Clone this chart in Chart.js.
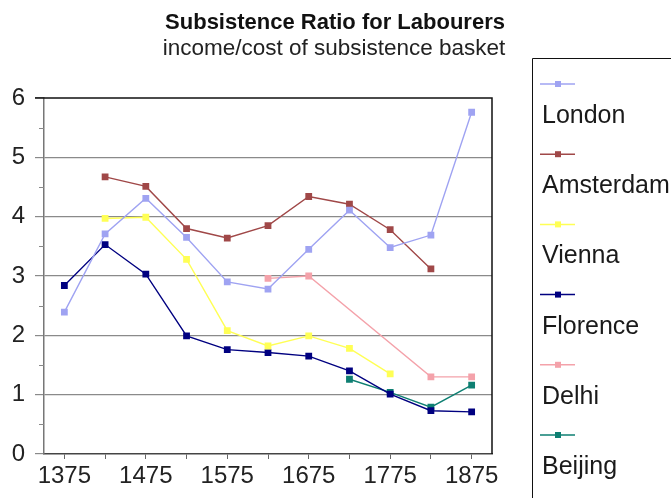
<!DOCTYPE html>
<html>
<head>
<meta charset="utf-8">
<script src="https://cdn.jsdelivr.net/npm/chart.js@4.4.1/dist/chart.umd.min.js"></script>
<style>
html,body{margin:0;padding:0;background:#fff;}
canvas{display:block;}
</style>
</head>
<body>
<canvas id="c" width="671" height="498"></canvas>
<script>
const years = ['1375','1425','1475','1525','1575','1625','1675','1725','1775','1825','1875'];
const london    = [2.39, 3.71, 4.31, 3.65, 2.90, 2.78, 3.45, 4.11, 3.48, 3.69, 5.76];
const amsterdam = [null, 4.67, 4.51, 3.80, 3.64, 3.85, 4.34, 4.21, 3.78, 3.12, null];
const vienna    = [null, 3.97, 3.99, 3.28, 2.08, 1.82, 1.99, 1.78, 1.35, null, null];
const florence  = [2.84, 3.53, 3.03, 1.99, 1.76, 1.71, 1.65, 1.40, 1.01, 0.73, 0.71];
const delhi     = [null, null, null, null, null, 2.96, 3.00, null, null, 1.30, 1.30];
const beijing   = [null, null, null, null, null, null, null, 1.26, 1.04, 0.79, 1.16];
const seriesNames = ['London','Amsterdam','Vienna','Florence','Delhi','Beijing'];
const seriesColors = ['#9fa3f2','#a04848','#ffff55','#000080','#f4a2aa','#0e7f72'];
const titleText = 'Subsistence Ratio for Labourers';
const subtitleText = 'income/cost of subsistence basket';

const FONT = '"Liberation Sans", Arial, sans-serif';
const seriesData = [london, amsterdam, vienna, florence, delhi, beijing];

const datasets = seriesNames.map((n, i) => ({
  label: n,
  data: seriesData[i],
  borderColor: seriesColors[i],
  backgroundColor: seriesColors[i],
  pointBackgroundColor: seriesColors[i],
  pointBorderColor: seriesColors[i],
  pointStyle: 'rect',
  pointRadius: 4.8,
  pointBorderWidth: 0,
  borderWidth: 1.4,
  tension: 0,
  spanGaps: true
}));

const decor = {
  id: 'decor',
  beforeDatasetsDraw(chart) {
    const ctx = chart.ctx;
    const ys = chart.scales.y;
    const left = chart.chartArea.left;
    ctx.save();
    ctx.strokeStyle = '#888';
    ctx.lineWidth = 1;
    for (let v = 0.5; v < 6; v += 1) {
      const y = Math.round(ys.getPixelForValue(v)) + 0.5;
      ctx.beginPath();
      ctx.moveTo(left - 5, y);
      ctx.lineTo(left, y);
      ctx.stroke();
    }
    ctx.restore();
  },
  afterDraw(chart) {
    const ctx = chart.ctx;
    const a = chart.chartArea;
    ctx.save();
    ctx.strokeStyle = '#111';
    ctx.lineWidth = 1.5;
    ctx.beginPath();
    ctx.moveTo(a.left - 9, a.top);
    ctx.lineTo(a.right, a.top);
    ctx.lineTo(a.right, a.bottom);
    ctx.stroke();
    ctx.fillStyle = '#111';
    ctx.textAlign = 'center';
    ctx.textBaseline = 'alphabetic';
    ctx.font = 'bold 22px ' + FONT;
    ctx.fillText(titleText, 335, 29);
    ctx.font = '22.5px ' + FONT;
    ctx.fillStyle = '#222';
    ctx.fillText(subtitleText, 334, 55);
    ctx.strokeStyle = '#111';
    ctx.lineWidth = 1;
    ctx.beginPath();
    ctx.moveTo(532.5, 510);
    ctx.lineTo(532.5, 58.5);
    ctx.lineTo(680, 58.5);
    ctx.stroke();
    ctx.textAlign = 'left';
    ctx.font = '25px ' + FONT;
    seriesNames.forEach((n, i) => {
      const y = 84 + i * 70.2;
      ctx.strokeStyle = seriesColors[i];
      ctx.lineWidth = 1.5;
      ctx.beginPath();
      ctx.moveTo(540, y);
      ctx.lineTo(575, y);
      ctx.stroke();
      ctx.fillStyle = seriesColors[i];
      ctx.fillRect(555, y - 3, 6, 6);
      ctx.fillStyle = '#1a1a1a';
      ctx.fillText(n, 542, y + 39);
    });
    ctx.restore();
  }
};

new Chart(document.getElementById('c'), {
  type: 'line',
  data: { labels: years, datasets },
  options: {
    responsive: false,
    animation: false,
    layout: { padding: { top: 98, right: 179, left: 0, bottom: 0 } },
    plugins: { legend: { display: false }, title: { display: false }, tooltip: { enabled: false } },
    scales: {
      x: {
        type: 'category',
        offset: true,
        grid: { drawOnChartArea: false, tickLength: 5, color: '#666', tickColor: '#666' },
        border: { color: '#444', width: 1.5 },
        ticks: {
          autoSkip: false, maxRotation: 0, minRotation: 0, padding: 3,
          font: { size: 24, family: FONT }, color: '#222',
          callback: (v, i) => (i % 2 === 0 ? years[i] : '')
        },
        afterFit: s => { s.height = 44; }
      },
      y: {
        min: 0, max: 6,
        ticks: {
          stepSize: 0.5, padding: 10,
          font: { size: 24, family: FONT }, color: '#222',
          callback: v => (Number.isInteger(v) ? String(v) : '')
        },
        grid: {
          tickLength: 9,
          color: c => (Number.isInteger(c.tick.value) && c.tick.value > 0 && c.tick.value < 6 ? '#8a8a8a' : 'rgba(0,0,0,0)'),
          tickColor: c => (Number.isInteger(c.tick.value) ? '#8a8a8a' : 'rgba(0,0,0,0)'),
          lineWidth: 1.2
        },
        border: { color: '#777', width: 1.5 },
        afterFit: s => { s.width = 44; }
      }
    }
  },
  plugins: [decor]
});
</script>
</body>
</html>
